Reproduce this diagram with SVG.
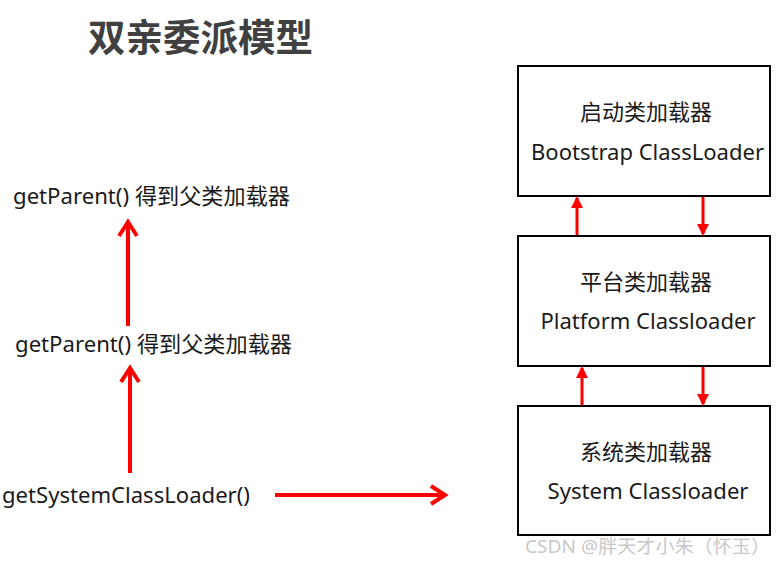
<svg xmlns="http://www.w3.org/2000/svg" width="779" height="565" viewBox="0 0 779 565">
<style>
.t{font-family:"Noto Sans","Noto Sans CJK SC",sans-serif;font-size:22px;fill:#1a1a1a}
.box{fill:#fff;stroke:#000;stroke-width:2}
.ar{stroke:#ff0000;stroke-width:4;fill:none}
.sm{stroke:#ff0000;stroke-width:3;fill:none}
</style>
<defs>
<marker id="big" markerWidth="22" markerHeight="22" refX="16" refY="11" orient="auto" markerUnits="userSpaceOnUse" viewBox="0 0 22 22">
<path d="M2,2 L16,11 L2,20" fill="none" stroke="#ff0000" stroke-width="4"/>
</marker>
<marker id="tri" markerWidth="12" markerHeight="12" refX="10" refY="6" orient="auto" markerUnits="userSpaceOnUse" viewBox="0 0 12 12">
<path d="M0,0 L12,6 L0,12 Z" fill="#ff0000"/>
</marker>
</defs>
<text x="88" y="51" style="font-family:'Noto Sans CJK SC',sans-serif;font-size:37.5px;font-weight:bold;fill:#404040">双亲委派模型</text>
<g id="left-labels">
<text class="t" x="13" y="204" textLength="277" lengthAdjust="spacingAndGlyphs">getParent() 得到父类加载器</text>
<text class="t" x="15" y="352" textLength="277" lengthAdjust="spacingAndGlyphs">getParent() 得到父类加载器</text>
<text class="t" x="2" y="503" textLength="248" lengthAdjust="spacingAndGlyphs">getSystemClassLoader()</text>
</g>
<g id="bootstrap">
<rect class="box" x="518" y="66" width="252" height="130"/>
<text class="t" x="646" y="120" text-anchor="middle">启动类加载器</text>
<text class="t" x="647.5" y="160" text-anchor="middle" textLength="233" lengthAdjust="spacingAndGlyphs">Bootstrap ClassLoader</text>
</g>
<g id="platform">
<rect class="box" x="518" y="236" width="252" height="130"/>
<text class="t" x="646" y="290" text-anchor="middle">平台类加载器</text>
<text class="t" x="648" y="329" text-anchor="middle" textLength="215" lengthAdjust="spacingAndGlyphs">Platform Classloader</text>
</g>
<g id="system">
<rect class="box" x="518" y="406" width="252" height="129"/>
<text class="t" x="646" y="460" text-anchor="middle">系统类加载器</text>
<text class="t" x="648" y="499" text-anchor="middle" textLength="201" lengthAdjust="spacingAndGlyphs">System Classloader</text>
</g>
<g id="connectors">
<line class="ar" x1="128" y1="326" x2="128" y2="222" marker-end="url(#big)"/>
<line class="ar" x1="130" y1="473" x2="130" y2="368" marker-end="url(#big)"/>
<line class="ar" x1="275" y1="495" x2="445" y2="495" marker-end="url(#big)"/>
<line class="sm" x1="577" y1="235" x2="577" y2="198" marker-end="url(#tri)"/>
<line class="sm" x1="703" y1="197" x2="703" y2="234" marker-end="url(#tri)"/>
<line class="sm" x1="582" y1="405" x2="582" y2="368" marker-end="url(#tri)"/>
<line class="sm" x1="703" y1="367" x2="703" y2="404" marker-end="url(#tri)"/>
</g>
<text x="525" y="553" textLength="245" lengthAdjust="spacingAndGlyphs" style="font-family:'Noto Sans','Noto Sans CJK SC',sans-serif;font-size:18.5px;fill:#c8c8c8">CSDN @胖天才小朱（怀玉）</text>
</svg>
